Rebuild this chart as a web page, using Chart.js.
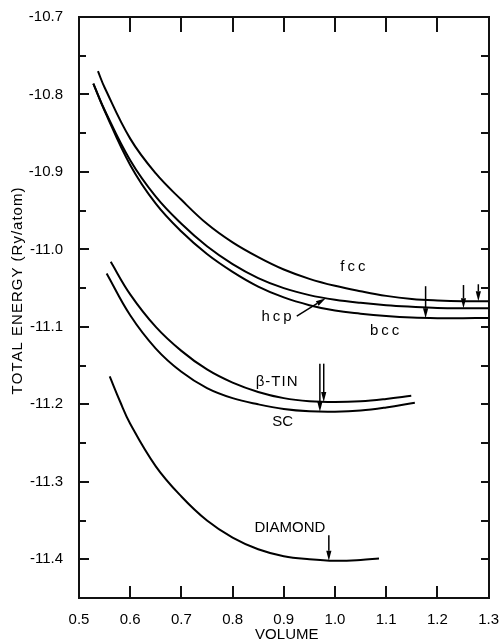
<!DOCTYPE html>
<html>
<head>
<meta charset="utf-8">
<script src="https://cdn.jsdelivr.net/npm/chart.js@4.4.1/dist/chart.umd.min.js"></script>
<style>
  html, body { margin: 0; padding: 0; background: #fff; }
  #wrap { width: 504px; height: 642px; }
</style>
</head>
<body>
<div id="wrap"><canvas id="c"></canvas></div>
<script>
// volume (x) vs total energy in Ry/atom (y)
const fccVol = [0.537, 0.55, 0.6, 0.65, 0.7, 0.75, 0.8, 0.85, 0.9, 0.95, 1.0, 1.05, 1.1, 1.15, 1.2, 1.25, 1.3];
const fccE = [-10.770, -10.791, -10.857, -10.902, -10.936, -10.967, -10.991, -11.010, -11.026, -11.038, -11.047, -11.054, -11.060, -11.064, -11.066, -11.067, -11.067];

const hcpVol = [0.528, 0.55, 0.6, 0.65, 0.7, 0.75, 0.8, 0.85, 0.9, 0.95, 1.0, 1.05, 1.1, 1.15, 1.2, 1.25, 1.3];
const hcpE = [-10.786, -10.820, -10.885, -10.932, -10.967, -10.996, -11.019, -11.037, -11.050, -11.059, -11.065, -11.069, -11.072, -11.074, -11.0755, -11.076, -11.076];

const bccVol = [0.528, 0.55, 0.6, 0.65, 0.7, 0.75, 0.8, 0.85, 0.9, 0.95, 1.0, 1.05, 1.1, 1.15, 1.2, 1.25, 1.3];
const bccE = [-10.786, -10.821, -10.891, -10.941, -10.977, -11.006, -11.029, -11.048, -11.062, -11.072, -11.079, -11.083, -11.086, -11.088, -11.0888, -11.0888, -11.0885];

const tinVol = [0.562, 0.6, 0.65, 0.7, 0.75, 0.8, 0.85, 0.9, 0.95, 1.0, 1.05, 1.1, 1.149];
const tinE = [-11.016, -11.058, -11.100, -11.131, -11.155, -11.172, -11.184, -11.192, -11.196, -11.197, -11.196, -11.193, -11.189];

const scVol = [0.554, 0.6, 0.65, 0.7, 0.75, 0.8, 0.85, 0.9, 0.95, 1.0, 1.05, 1.1, 1.156];
const scE = [-11.031, -11.085, -11.128, -11.158, -11.179, -11.192, -11.200, -11.206, -11.209, -11.2095, -11.208, -11.204, -11.198];

const diaVol = [0.56, 0.58, 0.6, 0.65, 0.7, 0.75, 0.8, 0.85, 0.9, 0.95, 1.0, 1.05, 1.086];
const diaE = [-11.164, -11.196, -11.225, -11.280, -11.319, -11.350, -11.372, -11.387, -11.396, -11.400, -11.402, -11.401, -11.399];

// equilibrium-volume arrows: x, start energy, tip energy
const minVol = [1.28, 1.251, 1.177, 0.978, 0.9705, 0.988];
const minFrom = [-11.045, -11.046, -11.0475, -11.1475, -11.1475, -11.369];
const minTo = [-11.067, -11.076, -11.0888, -11.197, -11.2095, -11.402];

// curve names and where they sit (data coords)
const names = ['fcc', 'hcp', 'bcc', 'β-TIN', 'SC', 'DIAMOND'];
const nameVol = [1.035, 0.886, 1.097, 0.886, 0.898, 0.912];
const nameE = [-11.023, -11.0874, -11.1054, -11.171, -11.2225, -11.359];
// pointer from the hcp label to its curve
const hcpPointer = [[0.9254, -11.086], [0.982, -11.063]];

const xTicks = [0.5, 0.6, 0.7, 0.8, 0.9, 1.0, 1.1, 1.2, 1.3];

const FONT = "'Liberation Sans', Arial, sans-serif";
const INK = '#111';

function pts(xs, ys) {
    return xs.map((x, i) => ({ x: x, y: ys[i] }));
}

function curve(label, xs, ys) {
    return {
        label: label,
        data: pts(xs, ys),
        showLine: true,
        borderColor: '#000',
        borderWidth: 2,
        pointRadius: 0,
        tension: 0.4,
        fill: false,
    };
}

function isMajor(v) {
    return Math.abs(v * 10 - Math.round(v * 10)) < 1e-6;
}

function arrow(ctx, x0, y0, x1, y1) {
    const ang = Math.atan2(y1 - y0, x1 - x0);
    const head = 10, half = 2.6;
    const bx = x1 - head * Math.cos(ang), by = y1 - head * Math.sin(ang);
    ctx.beginPath();
    ctx.moveTo(x0, y0);
    ctx.lineTo(bx, by);
    ctx.stroke();
    ctx.beginPath();
    ctx.moveTo(x1, y1);
    ctx.lineTo(bx + half * Math.sin(ang), by - half * Math.cos(ang));
    ctx.lineTo(bx - half * Math.sin(ang), by + half * Math.cos(ang));
    ctx.closePath();
    ctx.fill();
}

// centred text with extra space between letters, drawn char by char
function spaced(ctx, text, cx, cy, gap) {
    const chars = Array.from(text);
    const widths = chars.map(c => ctx.measureText(c).width);
    const total = widths.reduce((s, w) => s + w, 0) + gap * (chars.length - 1);
    let px = cx - total / 2;
    ctx.textAlign = 'left';
    ctx.textBaseline = 'middle';
    chars.forEach((c, i) => {
        ctx.fillText(c, px, cy);
        px += widths[i] + gap;
    });
}

// box and inward ticks, drawn before the curves
const frame = {
    id: 'frame',
    beforeDatasetsDraw(chart) {
        const ctx = chart.ctx;
        const a = chart.chartArea;
        const x = chart.scales.x, y = chart.scales.y;
        const L = Math.round(a.left), R = Math.round(a.right);
        const T = Math.round(a.top), B = Math.round(a.bottom);
        ctx.save();
        ctx.strokeStyle = INK;
        ctx.lineWidth = 2;
        ctx.beginPath();
        ctx.moveTo(L, T); ctx.lineTo(R, T); ctx.lineTo(R, B); ctx.lineTo(L, B); ctx.closePath();
        y.ticks.forEach(t => {
            const py = Math.round(y.getPixelForValue(t.value));
            if (py <= T + 1 || py >= B - 1) return;
            const len = isMajor(t.value) ? 10 : 7;
            ctx.moveTo(L, py); ctx.lineTo(L + len, py);
            ctx.moveTo(R, py); ctx.lineTo(R - 8, py);
        });
        xTicks.forEach(v => {
            const px = Math.round(x.getPixelForValue(v));
            if (px <= L + 1 || px >= R - 1) return;
            ctx.moveTo(px, T); ctx.lineTo(px, T + 15);
            ctx.moveTo(px, B); ctx.lineTo(px, B - 12);
        });
        ctx.stroke();
        ctx.restore();
    }
};

const notes = {
    id: 'notes',
    afterDraw(chart) {
        const ctx = chart.ctx;
        const a = chart.chartArea;
        const x = chart.scales.x, y = chart.scales.y;
        ctx.save();
        ctx.fillStyle = '#000';
        ctx.strokeStyle = '#000';

        // arrows at the minima
        ctx.lineWidth = 1.5;
        minVol.forEach((v, i) => {
            const px = x.getPixelForValue(v);
            arrow(ctx, px, y.getPixelForValue(minFrom[i]), px, y.getPixelForValue(minTo[i]));
        });
        arrow(ctx,
            x.getPixelForValue(hcpPointer[0][0]), y.getPixelForValue(hcpPointer[0][1]),
            x.getPixelForValue(hcpPointer[1][0]), y.getPixelForValue(hcpPointer[1][1]));

        // curve names
        ctx.font = '15px ' + FONT;
        names.forEach((n, i) => {
            const gap = /^[a-z]+$/.test(n) ? 3 : (n === 'β-TIN' ? 1 : 0);
            spaced(ctx, n, x.getPixelForValue(nameVol[i]), y.getPixelForValue(nameE[i]), gap);
        });

        // axis titles
        spaced(ctx, 'VOLUME', (a.left + a.right) / 2 + 3, 635, 0);
        ctx.translate(17.5, 291);
        ctx.rotate(-Math.PI / 2);
        spaced(ctx, 'TOTAL ENERGY (Ry/atom)', 0, 0, 1);
        ctx.restore();
    }
};

new Chart(document.getElementById('c'), {
    type: 'scatter',
    data: {
        datasets: [
            curve('fcc', fccVol, fccE),
            curve('hcp', hcpVol, hcpE),
            curve('bcc', bccVol, bccE),
            curve('β-TIN', tinVol, tinE),
            curve('SC', scVol, scE),
            curve('DIAMOND', diaVol, diaE),
        ]
    },
    options: {
        responsive: true,
        maintainAspectRatio: false,
        animation: false,
        devicePixelRatio: 1,
        layout: { padding: { top: 17, right: 15, bottom: 0, left: 0 } },
        plugins: {
            legend: { display: false },
            tooltip: { enabled: false },
        },
        scales: {
            x: {
                type: 'linear',
                min: 0.5,
                max: 1.3,
                grid: { display: false },
                border: { display: false },
                afterBuildTicks: s => { s.ticks = xTicks.map(v => ({ value: v })); },
                ticks: {
                    callback: v => v.toFixed(1),
                    color: '#000',
                    font: { family: FONT, size: 15 },
                    padding: 5,
                    maxRotation: 0,
                    autoSkip: false,
                },
                afterFit: s => { s.height = 44; },
            },
            y: {
                type: 'linear',
                min: -11.45,
                max: -10.7,
                grid: { display: false },
                border: { display: false },
                ticks: {
                    stepSize: 0.05,
                    callback: v => isMajor(v) ? v.toFixed(1) : '',
                    color: '#000',
                    font: { family: FONT, size: 15 },
                    padding: 8,
                    autoSkip: false,
                },
                afterFit: s => { s.width = 79; },
            }
        }
    },
    plugins: [frame, notes]
});
</script>
</body>
</html>
